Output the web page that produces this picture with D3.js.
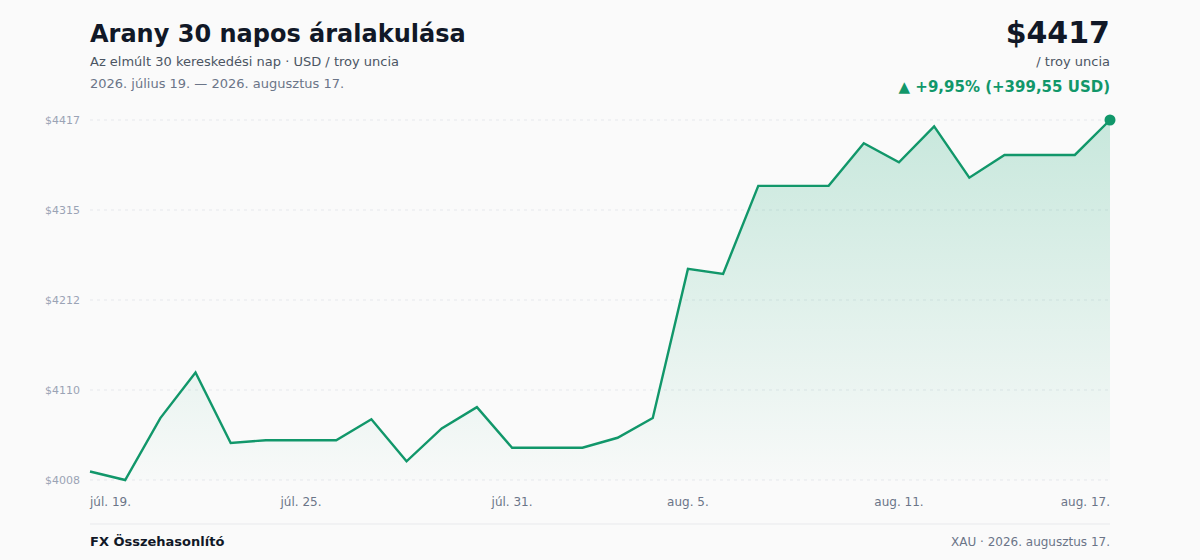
<!DOCTYPE html>
<html><head><meta charset="utf-8">
<script src="https://cdn.jsdelivr.net/npm/d3@7/dist/d3.min.js"></script>
<style>
html,body{margin:0;padding:0;background:#fafafa;}
svg{display:block;font-family:"DejaVu Sans",sans-serif;}
</style></head><body>
<svg id="c" width="1200" height="560"></svg>
<script>
const dates = ["júl. 19.","júl. 20.","júl. 21.","júl. 22.","júl. 23.","júl. 24.","júl. 25.","júl. 26.","júl. 27.","júl. 28.","júl. 29.","júl. 30.","júl. 31.","aug. 1.","aug. 2.","aug. 3.","aug. 4.","aug. 5.","aug. 6.","aug. 7.","aug. 8.","aug. 9.","aug. 10.","aug. 11.","aug. 12.","aug. 13.","aug. 14.","aug. 15.","aug. 16.","aug. 17."];
const prices = [4017.3,4007.6,4078.0,4129.9,4049.7,4052.8,4052.8,4052.8,4076.6,4028.9,4066.2,4090.4,4044.3,4044.3,4044.3,4055.6,4078.0,4247.6,4241.9,4342.0,4342.0,4342.0,4390.5,4368.7,4409.7,4351.3,4377.1,4377.1,4377.1,4416.85];
const xTickIdx = [0,6,12,17,23,29];
const title = "Arany 30 napos áralakulása";
const subtitle = "Az elmúlt 30 kereskedési nap · USD / troy uncia";
const range = "2026. július 19. — 2026. augusztus 17.";
const footL = "FX Összehasonlító";
const footR = "XAU · 2026. augusztus 17.";

const svg = d3.select("#c");
const L = 90, R = 1110, T = 120, B = 480;
const green = "#11976a";
const minV = d3.min(prices), maxV = d3.max(prices);
const x = d3.scaleLinear().domain([0, prices.length-1]).range([L, R]);
const y = d3.scaleLinear().domain([minV, maxV]).range([B, T]);

const defs = svg.append("defs");
const g = defs.append("linearGradient").attr("id","ag").attr("x1",0).attr("x2",0).attr("y1",0).attr("y2",1);
g.append("stop").attr("offset","0%").attr("stop-color","#16a673").attr("stop-opacity",0.22);
g.append("stop").attr("offset","100%").attr("stop-color","#16a673").attr("stop-opacity",0.01);

// grid
const yTicks = d3.range(5).map(i => minV + i*(maxV-minV)/4);
svg.append("g").selectAll("line").data(yTicks).join("line")
  .attr("x1",L).attr("x2",R).attr("y1",d=>y(d)).attr("y2",d=>y(d))
  .attr("stroke","#e6e8ec").attr("stroke-dasharray","3,4").attr("stroke-width",1);
svg.append("g").selectAll("text").data(yTicks).join("text")
  .attr("x",80).attr("y",d=>y(d)+4).attr("text-anchor","end")
  .attr("font-size",11).attr("fill","#9aa3b5").text(d=>"$"+Math.round(d));

// area + line
const area = d3.area().x((d,i)=>x(i)).y0(B).y1(d=>y(d));
svg.append("path").datum(prices).attr("d",area).attr("fill","url(#ag)");
const line = d3.line().x((d,i)=>x(i)).y(d=>y(d));
svg.append("path").datum(prices).attr("d",line).attr("fill","none")
  .attr("stroke",green).attr("stroke-width",2.4).attr("stroke-linejoin","miter");
svg.append("circle").attr("cx",x(prices.length-1)).attr("cy",y(prices[prices.length-1])).attr("r",5.5).attr("fill",green);

// x ticks
svg.append("g").selectAll("text").data(xTickIdx).join("text")
  .attr("x",i=>x(i)).attr("y",506)
  .attr("text-anchor",(i,k)=> k===0?"start":(k===xTickIdx.length-1?"end":"middle"))
  .attr("font-size",12).attr("fill","#6b7588").text(i=>dates[i]);

// header
svg.append("text").attr("x",90).attr("y",42).attr("font-size",24).attr("font-weight","bold").attr("fill","#111827").text(title);
svg.append("text").attr("x",90).attr("y",66).attr("font-size",13).attr("fill","#4b5563").text(subtitle);
svg.append("text").attr("x",90).attr("y",88).attr("font-size",13).attr("fill","#6b7588").text(range);

const last = prices[prices.length-1], first = prices[0];
const diff = last - first, pct = diff/first*100;
const fmt = v => v.toFixed(2).replace(".",",");
svg.append("text").attr("x",1110).attr("y",43).attr("text-anchor","end").attr("font-size",30).attr("font-weight","bold").attr("fill","#111827").text("$"+Math.round(last));
svg.append("text").attr("x",1110).attr("y",66).attr("text-anchor","end").attr("font-size",13).attr("fill","#4b5563").text("/ troy uncia");
svg.append("text").attr("x",1110).attr("y",92).attr("text-anchor","end").attr("font-size",15).attr("font-weight","bold").attr("fill",green)
  .text("▲ +"+fmt(pct)+"% (+"+fmt(diff)+" USD)");

// footer
svg.append("line").attr("x1",90).attr("x2",1110).attr("y1",524).attr("y2",524).attr("stroke","#e8e9ec").attr("stroke-width",1);
svg.append("text").attr("x",90).attr("y",546).attr("font-size",13).attr("font-weight","bold").attr("fill","#111827").text(footL);
svg.append("text").attr("x",1110).attr("y",546).attr("text-anchor","end").attr("font-size",12).attr("fill","#6b7588").text(footR);
</script>
</body></html>
